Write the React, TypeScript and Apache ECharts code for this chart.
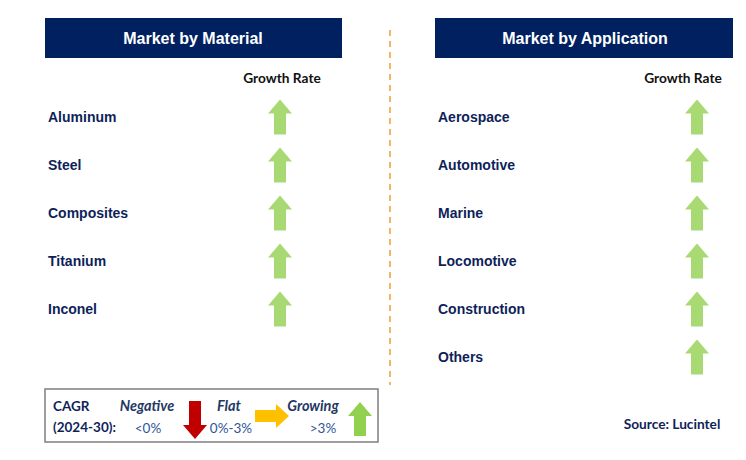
import React, { useEffect, useRef } from "react";
import * as echarts from "echarts";

const materials = ["Aluminum", "Steel", "Composites", "Titanium", "Inconel"];
const materialGrowth = ["up", "up", "up", "up", "up"];
const applications = ["Aerospace", "Automotive", "Marine", "Locomotive", "Construction", "Others"];
const applicationGrowth = ["up", "up", "up", "up", "up", "up"];
const growthLabel = ["Growth Rate"];
const headers = ["Market by Material", "Market by Application"];
const legendNames = ["Negative", "Flat", "Growing"];
const legendRanges = ["<0%", "0%-3%", ">3%"];

const NAVY = "#0f1f5a";
const GREEN = "#92d050";
const UP = "path://M12,0 L24,14 L18,14 L18,35 L6,35 L6,14 L0,14 Z";

export default function App() {
  const ref = useRef<HTMLDivElement>(null);
  useEffect(() => {
    if (!ref.current) return;
    const chart = echarts.init(ref.current, null, { renderer: "svg" });
    const yAxisBase = (cats: string[], idx: number, margin: number) => ({
      type: "category",
      gridIndex: idx,
      data: cats,
      inverse: true,
      axisLine: { show: false },
      axisTick: { show: false },
      splitLine: { show: false },
      axisLabel: {
        align: "left",
        margin,
        color: NAVY,
        fontFamily: "Liberation Sans, Arial",
        fontWeight: "bold",
        fontSize: 14,
      },
    });
    const xAxisBase = (idx: number) => ({
      type: "category",
      gridIndex: idx,
      data: growthLabel,
      position: "top",
      axisLine: { show: false },
      axisTick: { show: false },
      splitLine: { show: false },
      axisLabel: {
        margin: 9,
        color: "#111",
        fontFamily: "Lato, Open Sans, sans-serif",
        fontWeight: "bold",
        fontSize: 13.7,
      },
    });
    const sym = (g: string) => (g === "up" ? UP : UP);
    chart.setOption({
      animation: false,
      backgroundColor: "#fff",
      grid: [
        { left: 242, width: 80, top: 93, height: 240 },
        { left: 643, width: 80, top: 93, height: 288 },
      ],
      xAxis: [xAxisBase(0), xAxisBase(1)],
      yAxis: [yAxisBase(materials, 0, 194), yAxisBase(applications, 1, 205)],
      series: [
        {
          type: "scatter",
          xAxisIndex: 0,
          yAxisIndex: 0,
          symbolSize: [24, 35],
          symbolOffset: [-2, 0],
          itemStyle: { color: GREEN },
          data: materials.map((m, i) => ({ value: [growthLabel[0], m], symbol: sym(materialGrowth[i]) })),
        },
        {
          type: "scatter",
          xAxisIndex: 1,
          yAxisIndex: 1,
          symbolSize: [24, 35],
          symbolOffset: [14, 0],
          itemStyle: { color: GREEN },
          data: applications.map((m, i) => ({ value: [growthLabel[0], m], symbol: sym(applicationGrowth[i]) })),
        },
      ],
      graphic: [
        { type: "rect", shape: { x: 45, y: 18, width: 297, height: 40 }, style: { fill: "#002060" } },
        { type: "rect", shape: { x: 435, y: 18, width: 298, height: 40 }, style: { fill: "#002060" } },
        {
          type: "text", x: 193, y: 38,
          style: { text: headers[0], fill: "#fff", font: "bold 16px Liberation Sans, Arial", align: "center", verticalAlign: "middle" },
        },
        {
          type: "text", x: 585, y: 38,
          style: { text: headers[1], fill: "#fff", font: "bold 16px Liberation Sans, Arial", align: "center", verticalAlign: "middle" },
        },
        {
          type: "line", shape: { x1: 390, y1: 30, x2: 390, y2: 385 },
          style: { stroke: "#f0a030", lineWidth: 1.5, lineDash: [6, 5] },
        },
        // legend box
        { type: "rect", shape: { x: 45, y: 389, width: 333, height: 53 }, style: { fill: "#fff", stroke: "#7f7f7f", lineWidth: 1.5 } },
        { type: "text", x: 53, y: 406, style: { text: "CAGR", fill: NAVY, font: "bold 13.5px Lato, sans-serif", verticalAlign: "middle" } },
        { type: "text", x: 53, y: 427, style: { text: "(2024-30):", fill: NAVY, font: "bold 13.5px Lato, sans-serif", verticalAlign: "middle" } },
        { type: "text", x: 147, y: 405, style: { text: legendNames[0], fill: "#1f3864", font: "italic bold 14.5px Lato, sans-serif", align: "center", verticalAlign: "middle" } },
        { type: "text", x: 229, y: 405, style: { text: legendNames[1], fill: "#1f3864", font: "italic bold 14.5px Lato, sans-serif", align: "center", verticalAlign: "middle" } },
        { type: "text", x: 313, y: 405, style: { text: legendNames[2], fill: "#1f3864", font: "italic bold 14.5px Lato, sans-serif", align: "center", verticalAlign: "middle" } },
        { type: "text", x: 148, y: 428, style: { text: legendRanges[0], fill: "#2f5597", font: "13.5px Lato, sans-serif", align: "center", verticalAlign: "middle" } },
        { type: "text", x: 231, y: 428, style: { text: legendRanges[1], fill: "#2f5597", font: "13.5px Lato, sans-serif", align: "center", verticalAlign: "middle" } },
        { type: "text", x: 323, y: 428, style: { text: legendRanges[2], fill: "#2f5597", font: "13.5px Lato, sans-serif", align: "center", verticalAlign: "middle" } },
        {
          type: "polygon",
          shape: { points: [[189, 401], [201, 401], [201, 425], [207, 425], [195, 439], [183, 425], [189, 425]] },
          style: { fill: "#c00000" },
        },
        {
          type: "polygon",
          shape: { points: [[255, 410], [276, 410], [276, 404], [289, 416], [276, 428], [276, 422], [255, 422]] },
          style: { fill: "#ffc000" },
        },
        {
          type: "polygon",
          shape: { points: [[360, 402], [372, 416], [366, 416], [366, 436], [354, 436], [354, 416], [348, 416]] },
          style: { fill: GREEN },
        },
        { type: "text", x: 672, y: 423, style: { text: "Source: Lucintel", fill: NAVY, font: "bold 13.7px Lato, sans-serif", align: "center", verticalAlign: "middle" } },
      ],
    });
    return () => chart.dispose();
  }, []);
  return <div ref={ref} style={{ width: 746, height: 460, margin: -8 }} />;
}
